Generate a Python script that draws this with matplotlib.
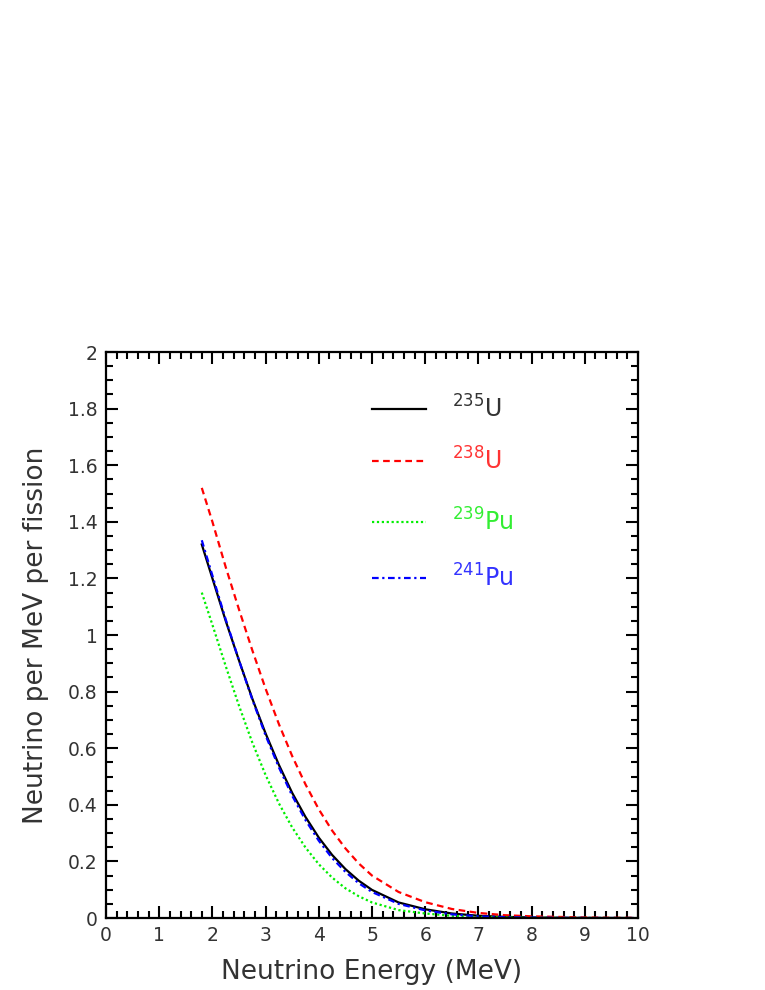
import matplotlib
matplotlib.use("Agg")
import matplotlib.pyplot as plt
from matplotlib.ticker import MultipleLocator, FormatStrFormatter

energy = [1.8, 2.0, 2.25, 2.5, 2.75, 3.0, 3.25, 3.5, 3.75, 4.0, 4.25, 4.5, 4.75,
          5.0, 5.5, 6.0, 6.5, 7.0, 7.5, 8.0, 8.5, 9.0, 9.5, 9.9]
u235 = [1.32, 1.20, 1.05, 0.91, 0.775, 0.652, 0.541, 0.442, 0.357, 0.284, 0.223, 0.173, 0.132,
        0.0993, 0.055, 0.031, 0.016, 0.008, 0.004, 0.002, 0.001, 0.0005, 0.0002, 0.0001]
u238 = [1.52, 1.40, 1.24, 1.09, 0.946, 0.81, 0.685, 0.572, 0.472, 0.384, 0.309, 0.246, 0.193,
        0.150, 0.092, 0.056, 0.032, 0.018, 0.010, 0.006, 0.004, 0.002, 0.001, 0.0008]
pu239 = [1.15, 1.036, 0.89, 0.75, 0.62, 0.505, 0.405, 0.32, 0.249, 0.19, 0.143, 0.105, 0.077,
         0.055, 0.028, 0.016, 0.008, 0.004, 0.002, 0.001, 0.0005, 0.0002, 0.0001, 0.0]
pu241 = [1.335, 1.21, 1.055, 0.91, 0.772, 0.645, 0.532, 0.432, 0.346, 0.273, 0.212, 0.163, 0.123,
         0.092, 0.050, 0.027, 0.013, 0.006, 0.003, 0.0015, 0.0007, 0.0003, 0.0001, 0.0]

labels = [r"$^{235}$U", r"$^{238}$U", r"$^{239}$Pu", r"$^{241}$Pu"]
colors = ["black", "#ff0000", "#00ee00", "#0000ff"]
text_colors = ["#333333", "#ff3333", "#33ee33", "#3333ff"]
styles = ["-", (0, (3, 2)), (0, (1, 1.2)), (0, (3, 1.6, 1, 1.6))]
series = [u235, u238, pu239, pu241]
legend_y = [1.80, 1.615, 1.40, 1.20]

text_color = "#333333"
plt.rcParams["font.family"] = ["DejaVu Sans"]
plt.rcParams["mathtext.default"] = "regular"

fig = plt.figure(figsize=(7.65, 9.9), dpi=100)
ax = fig.add_axes([0.1386, 0.0727, 0.834 - 0.1386, 0.6444 - 0.0727])

for ys, c, ls in zip(series, colors, styles):
    ax.plot(energy, ys, color=c, linestyle=ls, linewidth=1.6)

for ly, lab, c, tc, ls in zip(legend_y, labels, colors, text_colors, styles):
    ax.plot([5.0, 6.02], [ly, ly], color=c, linestyle=ls, linewidth=1.6)
    ax.text(6.5, ly, lab, color=tc, fontsize=17, va="center", ha="left")

ax.set_xlim(0, 10)
ax.set_ylim(0, 2)
ax.xaxis.set_major_locator(MultipleLocator(1))
ax.xaxis.set_minor_locator(MultipleLocator(0.2))
ax.yaxis.set_major_locator(MultipleLocator(0.2))
ax.yaxis.set_minor_locator(MultipleLocator(0.05))
ax.yaxis.set_major_formatter(FormatStrFormatter("%g"))
ax.xaxis.set_major_formatter(FormatStrFormatter("%g"))

ax.tick_params(which="both", direction="in", top=True, right=True, width=1.5,
               colors="black", labelcolor=text_color, labelsize=13.5)
ax.tick_params(which="major", length=8.5, pad=6)
ax.tick_params(which="minor", length=5)
for s in ax.spines.values():
    s.set_linewidth(1.6)

ax.set_xlabel("Neutrino Energy (MeV)", fontsize=19, color=text_color, labelpad=10)
ax.set_ylabel("Neutrino per MeV per fission", fontsize=19, color=text_color, labelpad=14)

fig.savefig("out.png", dpi=100)
